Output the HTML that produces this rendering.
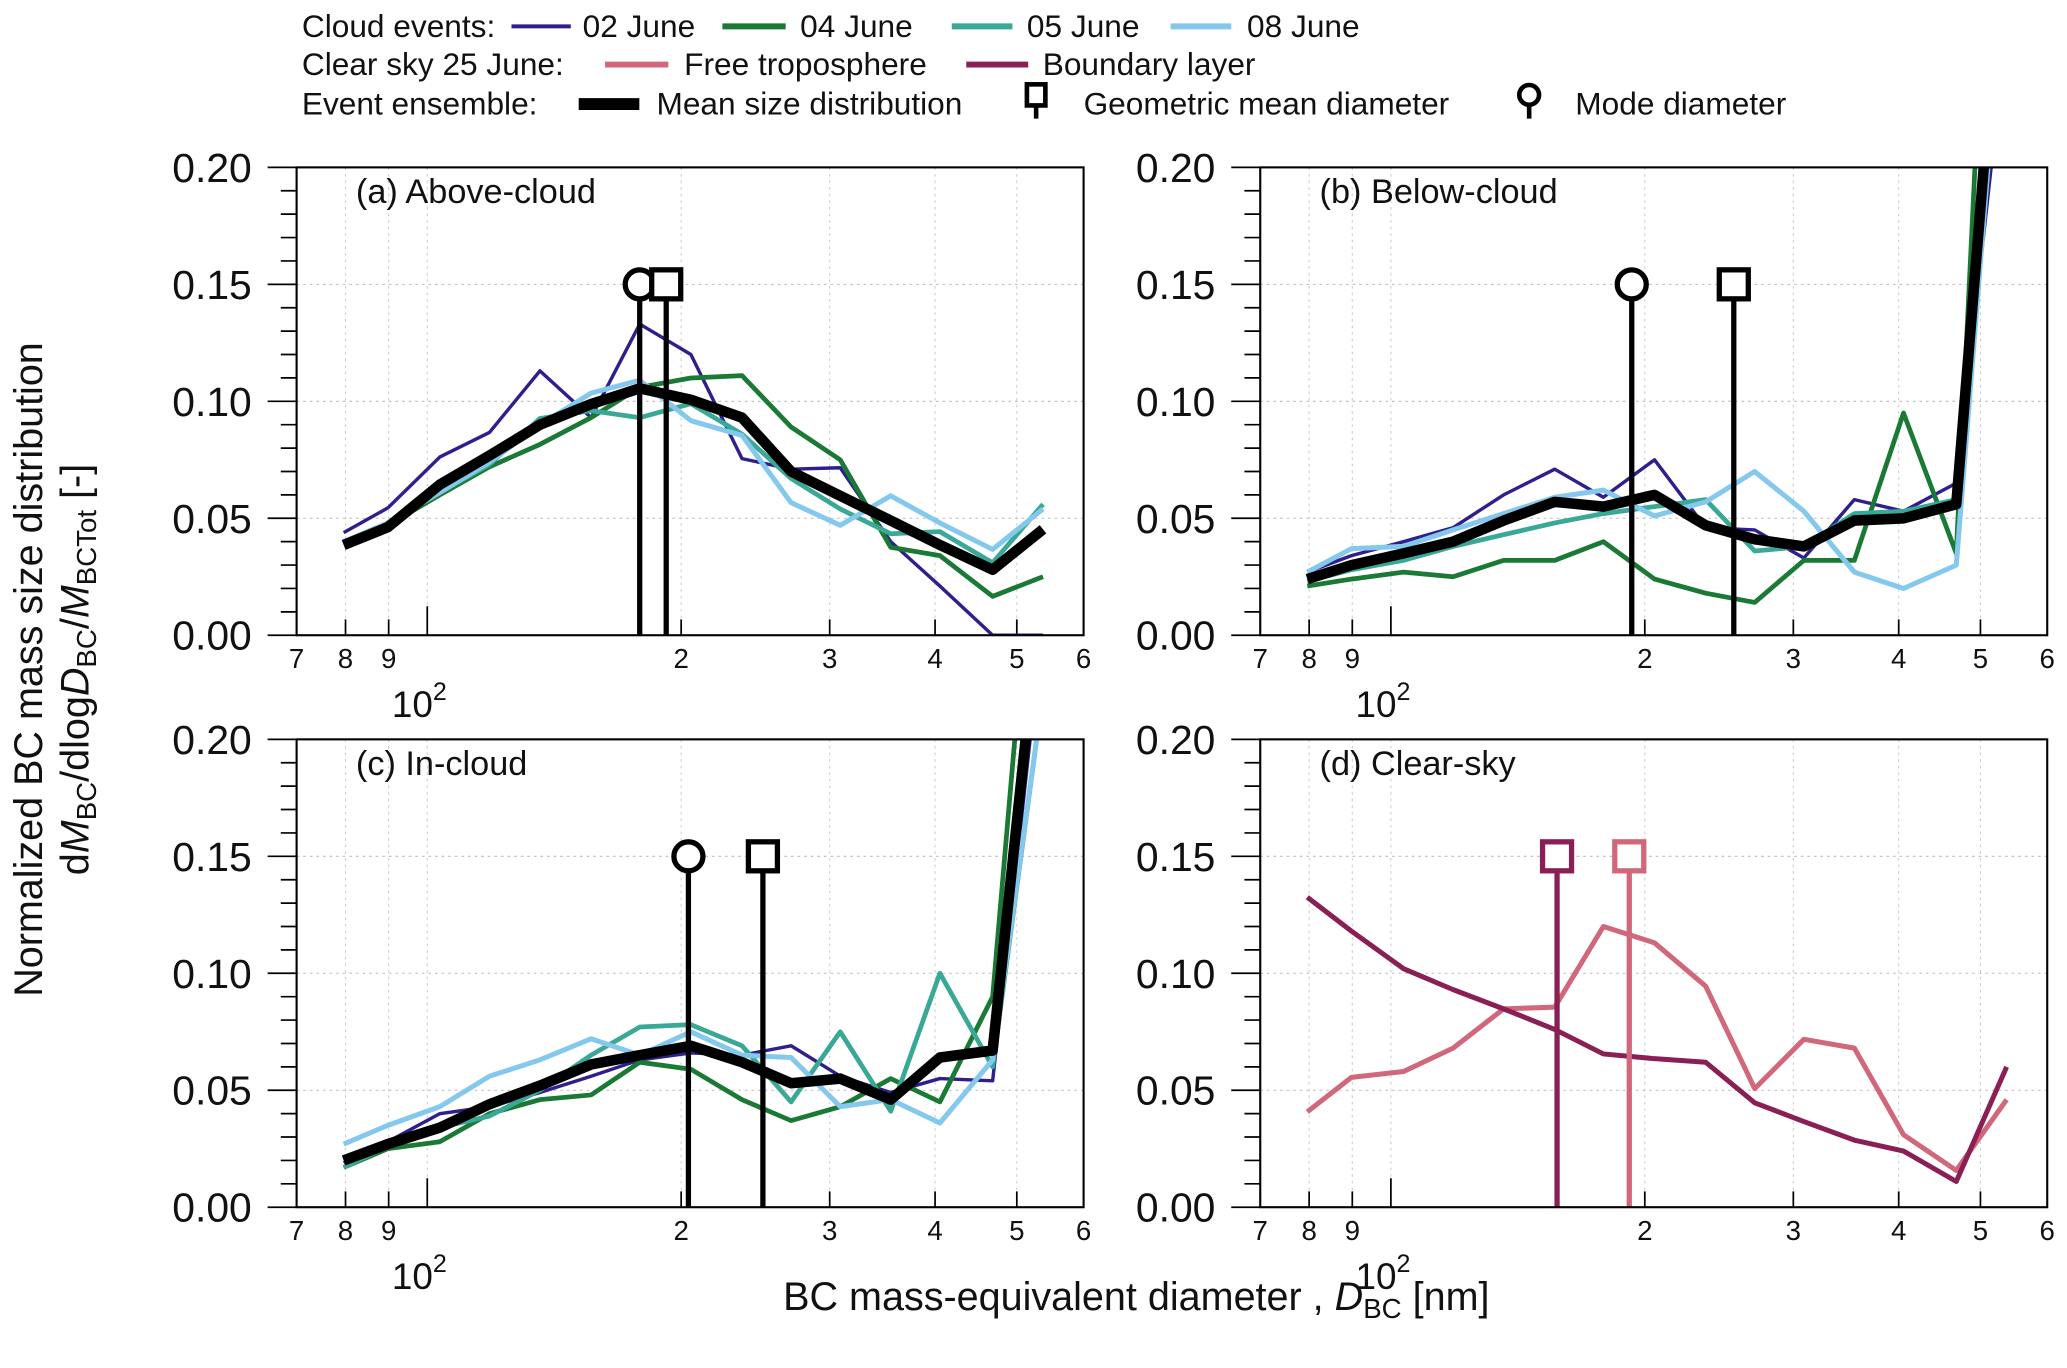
<!DOCTYPE html>
<html><head><meta charset="utf-8"><style>
html,body{margin:0;padding:0;background:#fff}
svg{display:block}
text{font-family:"Liberation Sans",sans-serif;fill:#111}
</style></head><body>
<svg id="chart" width="2067" height="1368" viewBox="0 0 1568 1038" preserveAspectRatio="none" xmlns="http://www.w3.org/2000/svg">
<g id="legend" font-size="24">
 <text x="229" y="28">Cloud events:</text>
 <line x1="388" y1="20" x2="433" y2="20" stroke="#2e1f8c" stroke-width="3"/>
 <text x="442" y="28">02 June</text>
 <line x1="548" y1="20" x2="596" y2="20" stroke="#1a7a35" stroke-width="4.5"/>
 <text x="607" y="28">04 June</text>
 <line x1="722" y1="20" x2="768" y2="20" stroke="#3aa896" stroke-width="4.5"/>
 <text x="779" y="28">05 June</text>
 <line x1="888" y1="20" x2="934" y2="20" stroke="#85c8ee" stroke-width="4.5"/>
 <text x="946" y="28">08 June</text>
 <text x="229" y="57">Clear sky 25 June:</text>
 <line x1="459" y1="49" x2="507" y2="49" stroke="#d1677a" stroke-width="4.5"/>
 <text x="519" y="57">Free troposphere</text>
 <line x1="733" y1="49" x2="780" y2="49" stroke="#8a1f55" stroke-width="4.5"/>
 <text x="791" y="57">Boundary layer</text>
 <text x="229" y="87">Event ensemble:</text>
 <line x1="439" y1="79" x2="485" y2="79" stroke="#000" stroke-width="9"/>
 <text x="498" y="87">Mean size distribution</text>
 <g><rect x="779" y="64" width="14" height="16" fill="#fff" stroke="#000" stroke-width="3.5"/><line x1="786" y1="80" x2="786" y2="90" stroke="#000" stroke-width="3.5"/></g>
 <text x="822" y="87">Geometric mean diameter</text>
 <g><circle cx="1160" cy="72" r="7.5" fill="#fff" stroke="#000" stroke-width="3.5"/><line x1="1160" y1="80" x2="1160" y2="90" stroke="#000" stroke-width="3.5"/></g>
 <text x="1195" y="87">Mode diameter</text>
</g>
<text font-size="30" text-anchor="middle" transform="translate(32,508) rotate(-90)">Normalized BC mass size distribution</text>
<text font-size="30" text-anchor="middle" transform="translate(67,508) rotate(-90)">d<tspan font-style="italic">M</tspan><tspan font-size="21" dy="6">BC</tspan><tspan dy="-6">/dlog</tspan><tspan font-style="italic">D</tspan><tspan font-size="21" dy="6">BC</tspan><tspan dy="-6">/</tspan><tspan font-style="italic">M</tspan><tspan font-size="21" dy="6">BCTot</tspan><tspan dy="-6"> [-]</tspan></text>
<text font-size="30" x="862" y="994" text-anchor="middle">BC mass-equivalent diameter , <tspan font-style="italic">D</tspan><tspan font-size="21" dy="6">BC</tspan><tspan dy="-6"> [nm]</tspan></text>
<g id="panels"></g>
</svg>
<script>
const diameters = [79.6, 89.8, 103.5, 118.5, 136, 156.4, 178.6, 205.4, 236.2, 270, 308.8, 354.4, 405.3, 468, 537];
const yTicks = [0, 0.05, 0.10, 0.15, 0.20];
const yTickLabels = ["0.00", "0.05", "0.10", "0.15", "0.20"];
const xMinorTicks = [70, 80, 90, 100, 200, 300, 400, 500, 600];
const xTickLabels = ["7", "8", "9", "", "2", "3", "4", "5", "6"];

const a_jun02 = [0.0439,0.0544,0.0762,0.0867,0.113,0.093,0.133,0.120,0.0755,0.071,0.0716,0.040,0.021,0,0];
const a_jun04 = [0.040,0.047,0.060,0.072,0.0816,0.093,0.106,0.110,0.111,0.089,0.075,0.0376,0.034,0.0166,0.025];
const a_jun05 = [0.040,0.048,0.061,0.073,0.0927,0.096,0.093,0.099,0.086,0.067,0.054,0.0434,0.0443,0.031,0.056];
const a_jun08 = [0.040,0.048,0.061,0.074,0.090,0.1035,0.109,0.0917,0.0854,0.0567,0.047,0.0596,0.048,0.0367,0.054];
const a_mean = [0.0386,0.0462,0.0644,0.0768,0.090,0.0988,0.1055,0.1007,0.093,0.070,0.0596,0.049,0.0386,0.028,0.0453];
const a_mode = 178.6, a_gmd = 192;

const b_jun02 = [0.027,0.034,0.040,0.046,0.060,0.071,0.059,0.075,0.046,0.045,0.033,0.058,0.053,0.065,0.26];
const b_jun04 = [0.021,0.024,0.027,0.025,0.032,0.032,0.040,0.024,0.018,0.014,0.032,0.032,0.095,0.035,0.48];
const b_jun05 = [0.023,0.028,0.032,0.038,0.043,0.048,0.052,0.055,0.058,0.036,0.038,0.052,0.053,0.058,0.34];
const b_jun08 = [0.027,0.037,0.038,0.045,0.052,0.059,0.062,0.051,0.057,0.070,0.053,0.027,0.020,0.030,0.30];
const b_mean = [0.024,0.030,0.035,0.040,0.049,0.057,0.055,0.060,0.047,0.041,0.038,0.049,0.050,0.056,0.32];
const b_mode = 193, b_gmd = 255;

const c_jun02 = [0.019,0.028,0.040,0.043,0.049,0.056,0.063,0.066,0.065,0.069,0.056,0.049,0.055,0.054,0.25];
const c_jun04 = [0.017,0.025,0.028,0.040,0.046,0.048,0.062,0.059,0.046,0.037,0.043,0.055,0.045,0.090,0.34];
const c_jun05 = [0.017,0.026,0.034,0.039,0.050,0.065,0.077,0.078,0.069,0.045,0.075,0.041,0.100,0.060,0.22];
const c_jun08 = [0.027,0.035,0.043,0.056,0.063,0.072,0.065,0.075,0.065,0.064,0.043,0.046,0.036,0.063,0.22];
const c_mean = [0.020,0.027,0.034,0.044,0.052,0.061,0.065,0.069,0.062,0.053,0.055,0.046,0.064,0.067,0.27];
const c_mode = 204, c_gmd = 250;

const d_freeTrop = [0.0408,0.0555,0.058,0.068,0.0848,0.0855,0.120,0.113,0.0945,0.0507,0.0718,0.068,0.031,0.0157,0.046];
const d_boundary = [0.1325,0.118,0.102,0.093,0.0848,0.076,0.0655,0.0635,0.062,0.0446,0.0366,0.0287,0.024,0.011,0.060];
const d_gmdFreeTrop = 191.7, d_gmdBoundary = 157.4;

const NS = "http://www.w3.org/2000/svg";
const C = {j02:"#2e1f8c", j04:"#1a7a35", j05:"#3aa896", j08:"#85c8ee", ft:"#d1677a", bl:"#8a1f55", mean:"#000"};
function el(tag, attrs, parent){const e=document.createElementNS(NS,tag);for(const k in attrs)e.setAttribute(k,attrs[k]);if(parent)parent.appendChild(e);return e;}
const root = document.getElementById('panels');

function panel(id, x0, y0, x1, y1, title, series, markers){
  const g = el('g', {}, root);
  
  
  const lmin=Math.log10(70), lmax=Math.log10(600);
  const xs = d => x0 + (Math.log10(d)-lmin)/(lmax-lmin)*(x1-x0);
  const ys = v => y1 - v/0.2*(y1-y0);
  xMinorTicks.forEach((t,i)=>{ if(i>0 && i<xMinorTicks.length-1){
    const gl = el('line',{x1:xs(t),x2:xs(t),y1:y0,y2:y1,stroke:'#ccc','stroke-width':0.8,'stroke-dasharray':'2,3'},g);
    
    
  }});
  yTicks.forEach(t=>{ if(t>0 && t<0.2){
    const gl = el('line',{x1:x0,x2:x1,y1:ys(t),y2:ys(t),stroke:'#bbb','stroke-width':0.8,'stroke-dasharray':'2,3'},g);
    
    
  }});
  for(let k=0;k<=20;k++){
    const v=k*0.01, major = k%5===0;
    el('line',{x1:x0-(major?22:12),x2:x0,y1:ys(v),y2:ys(v),stroke:'#000','stroke-width':1.3},g);
  }
  yTicks.forEach((t,i)=>{
    const tx = el('text',{x:x0-34,y:ys(t)+11,'text-anchor':'end','font-size':31},g);
    tx.textContent = yTickLabels[i];
    
    
  });
  xMinorTicks.forEach((t,i)=>{
    const len = t===100?22:12;
    if(i>0 && i<xMinorTicks.length-1) el('line',{x1:xs(t),x2:xs(t),y1:y1,y2:y1-len,stroke:'#000','stroke-width':1.3},g);
    if(xTickLabels[i]){
      const tx = el('text',{x:xs(t),y:y1+25,'text-anchor':'middle','font-size':21},g);
      tx.textContent = xTickLabels[i];
      
      
    }
  });
  const dec = el('text',{x:xs(100)-6,y:y1+62,'text-anchor':'middle','font-size':28},g);
  
  
  dec.innerHTML = '10<tspan font-size="19" dy="-13">2</tspan>';
  const cp = el('clipPath',{id:'clip-'+id},g);
  el('rect',{x:x0,y:y0,width:x1-x0,height:y1-y0},cp);
  const sg = el('g',{'clip-path':'url(#clip-'+id+')'},g);
  series.forEach(s=>{
    const p = el('polyline',{points:s.v.map((v,i)=>xs(diameters[i]).toFixed(1)+','+ys(v).toFixed(1)).join(' '),fill:'none',stroke:s.c,'stroke-width':s.w,'stroke-linejoin':'round'},sg);
    
    
  });
  markers.forEach(m=>{
    const mx = xs(m.d), my = ys(0.15);
    const mg = el('g',{},g);
    
    
    el('line',{x1:mx,x2:mx,y1:my+10,y2:y1,stroke:m.c,'stroke-width':4},mg);
    if(m.t==='circle') el('circle',{cx:mx,cy:my,r:11,fill:'#fff',stroke:m.c,'stroke-width':4},mg);
    else el('rect',{x:mx-11,y:my-11,width:22,height:22,fill:'#fff',stroke:m.c,'stroke-width':4},mg);
  });
  el('rect',{x:x0,y:y0,width:x1-x0,height:y1-y0,fill:'none',stroke:'#000','stroke-width':1.6},g);
  const tt = el('text',{x:x0+45,y:y0+27,'font-size':26},g);
  tt.textContent = title;
  
  
}
function cloud(j02,j04,j05,j08,mean){return [
  {v:j02,c:C.j02,w:2.6,n:'line-02-june'},{v:j04,c:C.j04,w:3.6,n:'line-04-june'},
  {v:j05,c:C.j05,w:3.6,n:'line-05-june'},{v:j08,c:C.j08,w:3.8,n:'line-08-june'},
  {v:mean,c:C.mean,w:8,n:'line-mean-size-distribution'}];}
panel('a',225,127,822,482,'(a) Above-cloud',cloud(a_jun02,a_jun04,a_jun05,a_jun08,a_mean),
  [{d:a_mode,t:'circle',c:'#000',n:'mode-diameter-marker'},{d:a_gmd,t:'square',c:'#000',n:'geometric-mean-marker'}]);
panel('b',956,127,1553,482,'(b) Below-cloud',cloud(b_jun02,b_jun04,b_jun05,b_jun08,b_mean),
  [{d:b_mode,t:'circle',c:'#000',n:'mode-diameter-marker'},{d:b_gmd,t:'square',c:'#000',n:'geometric-mean-marker'}]);
panel('c',225,561,822,916,'(c) In-cloud',cloud(c_jun02,c_jun04,c_jun05,c_jun08,c_mean),
  [{d:c_mode,t:'circle',c:'#000',n:'mode-diameter-marker'},{d:c_gmd,t:'square',c:'#000',n:'geometric-mean-marker'}]);
panel('d',956,561,1553,916,'(d) Clear-sky',[
  {v:d_freeTrop,c:C.ft,w:3.8,n:'line-free-troposphere'},{v:d_boundary,c:C.bl,w:3.8,n:'line-boundary-layer'}],
  [{d:d_gmdBoundary,t:'square',c:C.bl,n:'geometric-mean-marker-boundary-layer'},{d:d_gmdFreeTrop,t:'square',c:C.ft,n:'geometric-mean-marker-free-troposphere'}]);
</script>
</body></html>
